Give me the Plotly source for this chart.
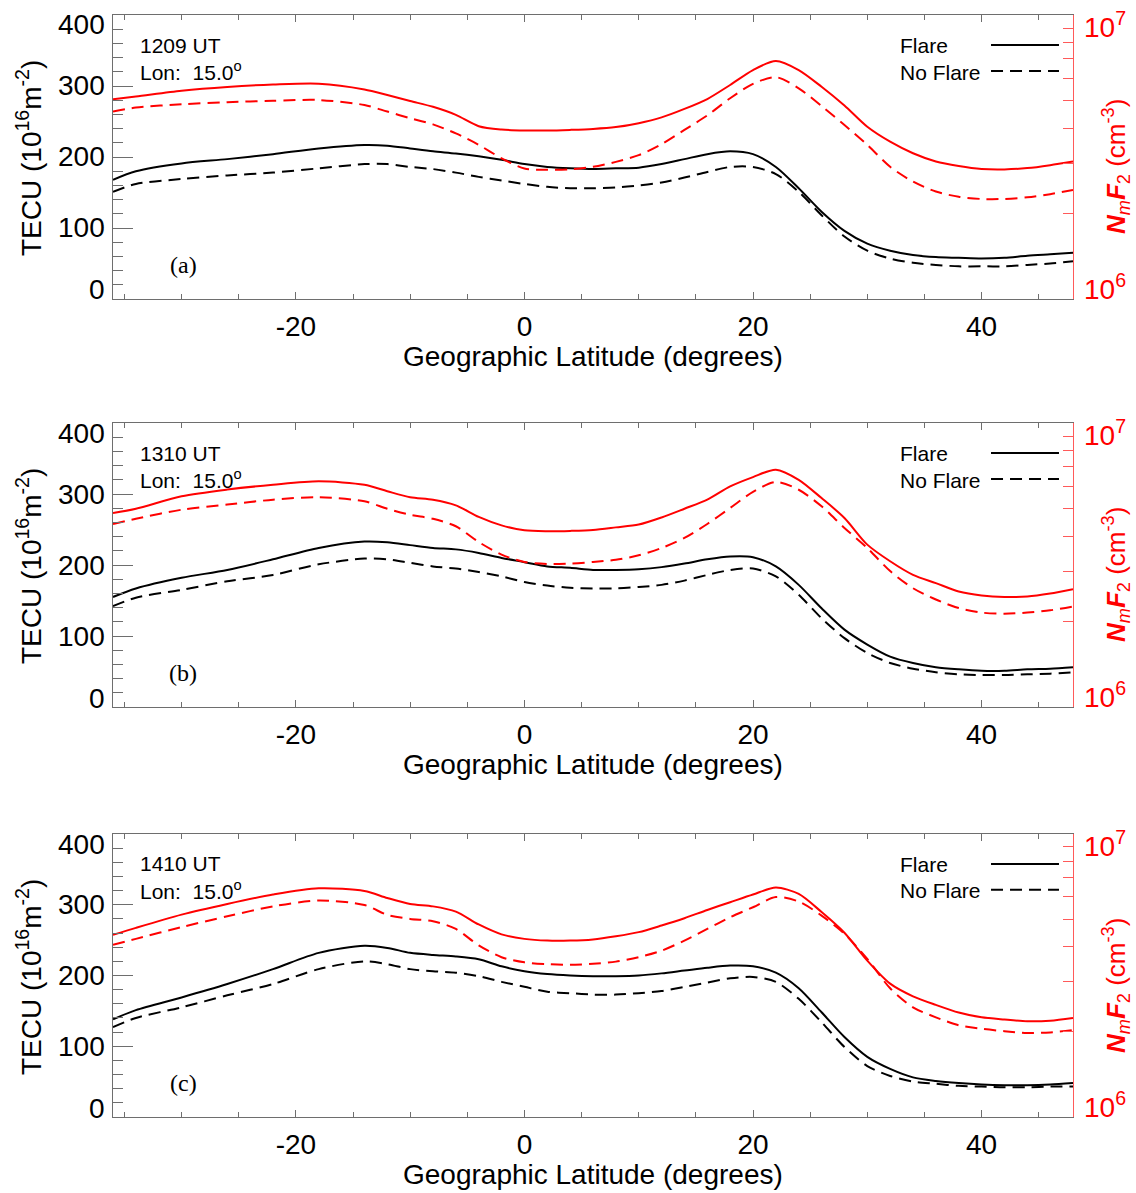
import plotly.graph_objects as go

# Geographic latitude grid (degrees) shared by every profile
lat = [-36, -34, -30, -26, -22, -18, -14, -12, -10, -8, -6, -4, -2, 0, 2, 4,
       6, 8, 10, 12, 14, 16, 18, 20, 22, 24, 26, 28, 30, 32, 34, 36, 38, 40, 42, 44, 46, 48]

# Total electron content (TECU) -- flare and no-flare runs
tec_flare_a = [168, 180, 191, 197, 204, 212, 217, 216, 212, 208, 205, 201, 196, 190, 186, 184,
               183, 184, 185, 190, 197, 204, 208, 204, 186, 156, 123, 96, 78, 68, 62, 59, 58, 57, 58, 61, 63, 65]
tec_noflare_a = [151, 162, 169, 174, 178, 184, 190, 190, 186, 183, 178, 172, 167, 162, 158, 156,
                 156, 157, 160, 164, 171, 179, 186, 186, 176, 151, 118, 88, 68, 57, 51, 48, 46, 46, 46, 48, 50, 53]
tec_flare_b = [155, 167, 182, 193, 208, 224, 233, 232, 228, 224, 222, 217, 210, 204, 198, 196,
               193, 193, 194, 197, 202, 208, 212, 211, 198, 172, 139, 109, 88, 71, 62, 56, 53, 51, 51, 53, 54, 56]
tec_noflare_b = [142, 154, 165, 177, 186, 201, 209, 208, 203, 198, 195, 190, 184, 176, 171, 168,
                 167, 167, 169, 172, 178, 186, 193, 195, 184, 158, 125, 97, 76, 62, 54, 49, 46, 45, 45, 46, 47, 49]
tec_flare_c = [138, 151, 169, 188, 209, 232, 242, 239, 232, 229, 227, 223, 213, 206, 202, 200,
               199, 199, 200, 203, 207, 211, 214, 213, 204, 182, 148, 113, 85, 68, 56, 51, 48, 46, 45, 45, 46, 48]
tec_noflare_c = [127, 140, 155, 172, 188, 209, 220, 216, 209, 206, 204, 199, 191, 184, 177, 175,
                 173, 173, 175, 178, 184, 190, 196, 198, 191, 167, 134, 99, 72, 58, 50, 47, 44, 43, 42, 42, 43, 43]

# F2-layer peak density NmF2, in units of 1e6 cm^-3
nmf2_flare_a = [5.05, 5.16, 5.41, 5.58, 5.69, 5.73, 5.47, 5.23, 4.98, 4.75, 4.45, 4.06, 3.95, 3.92, 3.92, 3.94,
                3.97, 4.03, 4.16, 4.36, 4.67, 5.06, 5.67, 6.40, 6.89, 6.40, 5.59, 4.80, 4.04, 3.58, 3.26, 3.05, 2.94, 2.87, 2.86, 2.89, 2.96, 3.05]
nmf2_noflare_a = [4.57, 4.72, 4.85, 4.93, 4.99, 5.02, 4.82, 4.57, 4.33, 4.12, 3.83, 3.49, 3.13, 2.88, 2.85, 2.86,
                  2.92, 3.04, 3.21, 3.51, 3.94, 4.43, 5.09, 5.72, 6.04, 5.52, 4.78, 4.10, 3.49, 2.92, 2.59, 2.39, 2.29, 2.25, 2.25, 2.28, 2.34, 2.42]
nmf2_flare_b = [4.82, 4.99, 5.52, 5.83, 6.06, 6.23, 6.06, 5.75, 5.48, 5.37, 5.13, 4.67, 4.36, 4.19, 4.16, 4.17,
                4.20, 4.29, 4.39, 4.65, 4.99, 5.37, 5.98, 6.45, 6.85, 6.31, 5.44, 4.63, 3.73, 3.26, 2.92, 2.73, 2.55, 2.47, 2.44, 2.45, 2.51, 2.60]
nmf2_noflare_b = [4.41, 4.60, 4.95, 5.16, 5.37, 5.48, 5.30, 4.99, 4.75, 4.60, 4.33, 3.81, 3.44, 3.24, 3.19, 3.20,
                  3.24, 3.30, 3.42, 3.63, 3.94, 4.41, 5.02, 5.72, 6.20, 5.82, 5.09, 4.27, 3.63, 3.01, 2.62, 2.39, 2.23, 2.15, 2.13, 2.15, 2.19, 2.26]
nmf2_flare_c = [4.40, 4.66, 5.19, 5.66, 6.11, 6.43, 6.29, 5.94, 5.66, 5.55, 5.32, 4.79, 4.42, 4.26, 4.20, 4.20,
                4.24, 4.35, 4.50, 4.75, 5.04, 5.39, 5.74, 6.11, 6.47, 6.14, 5.30, 4.48, 3.57, 2.96, 2.67, 2.49, 2.34, 2.25, 2.21, 2.18, 2.19, 2.24]
nmf2_noflare_c = [4.06, 4.26, 4.69, 5.12, 5.55, 5.82, 5.61, 5.18, 5.01, 4.92, 4.62, 4.04, 3.67, 3.52, 3.47, 3.45,
                  3.48, 3.54, 3.67, 3.87, 4.20, 4.62, 5.08, 5.51, 5.99, 5.77, 5.15, 4.44, 3.62, 2.85, 2.44, 2.25, 2.11, 2.05, 2.01, 1.98, 1.99, 2.03]

panel_times = ["1209 UT", "1310 UT", "1410 UT"]
panel_tags = ["(a)", "(b)", "(c)"]
longitude = "15.0"

tec_ticks = [0, 100, 200, 300, 400]
tec_ticktext = ["0", "100", "200", "300", "400"]
lat_ticks = [-20, 0, 20, 40]
lat_ticktext = ["-20", "0", "20", "40"]
nmf2_decade_text = ["10<sup>6</sup>", "10<sup>7</sup>"]
nmf2_ticks = [2e6, 3e6, 4e6, 5e6, 6e6, 7e6, 8e6, 9e6]

tec_sets = [(tec_flare_a, tec_noflare_a), (tec_flare_b, tec_noflare_b), (tec_flare_c, tec_noflare_c)]
nmf2_sets = [(nmf2_flare_a, nmf2_noflare_a), (nmf2_flare_b, nmf2_noflare_b), (nmf2_flare_c, nmf2_noflare_c)]

# ---- page geometry (pixels) ----
W, H = 1136, 1193
PLOT_L, PLOT_R = 113, 1073
PANEL_TOP = [15, 423, 834]
PANEL_BOT = [299, 707, 1117]

SANS = "Liberation Sans, Arial, Helvetica, sans-serif"
SERIF = "Liberation Serif, Times New Roman, serif"
RED = "#ff0000"
RED_AXIS = "#ff5a5a"
AXIS_GREY = "#6e6e6e"
DASH = "12px,7px"

fig = go.Figure()
annotations = []
shapes = []

xdom = [PLOT_L / W, PLOT_R / W]

for i in range(3):
    n = i + 1
    xa = "x" if n == 1 else f"x{n}"
    yl_n, yr_n = 2 * i + 1, 2 * i + 2
    yl = "y" if yl_n == 1 else f"y{yl_n}"
    yr = f"y{yr_n}"
    top, bot = PANEL_TOP[i], PANEL_BOT[i]
    ydom = [1 - bot / H, 1 - top / H]

    tf, tn = tec_sets[i]
    nf, nn = nmf2_sets[i]
    line_kw = dict(shape="spline", smoothing=0.8, width=2)

    fig.add_trace(go.Scatter(x=lat, y=tf, xaxis=xa, yaxis=yl, mode="lines",
                             line=dict(color="black", **line_kw), showlegend=False, name="Flare TEC"))
    fig.add_trace(go.Scatter(x=lat, y=tn, xaxis=xa, yaxis=yl, mode="lines",
                             line=dict(color="black", dash=DASH, **line_kw), showlegend=False, name="No Flare TEC"))
    fig.add_trace(go.Scatter(x=lat, y=[v * 1e6 for v in nf], xaxis=xa, yaxis=yr, mode="lines",
                             line=dict(color=RED, **line_kw), showlegend=False, name="Flare NmF2"))
    fig.add_trace(go.Scatter(x=lat, y=[v * 1e6 for v in nn], xaxis=xa, yaxis=yr, mode="lines",
                             line=dict(color=RED, dash=DASH, **line_kw), showlegend=False, name="No Flare NmF2"))

    xkey = "xaxis" if n == 1 else f"xaxis{n}"
    ylkey = "yaxis" if yl_n == 1 else f"yaxis{yl_n}"
    yrkey = f"yaxis{yr_n}"

    fig.layout[xkey] = dict(
        domain=xdom, anchor=yl, range=[-36, 48],
        tickmode="array", tickvals=lat_ticks, ticktext=lat_ticktext,
        ticks="inside", ticklen=7, tickwidth=1, tickcolor=AXIS_GREY,
        minor=dict(dtick=5, tick0=0, ticks="inside", ticklen=5, tickcolor=AXIS_GREY),
        showline=True, linecolor=AXIS_GREY, linewidth=1, mirror="ticks",
        showgrid=False, zeroline=False,
        tickfont=dict(family=SANS, size=28, color="black"),
        ticklabelstandoff=2,
    )
    fig.layout[ylkey] = dict(
        domain=ydom, anchor=xa, range=[0, 400],
        tickmode="array", tickvals=tec_ticks, showticklabels=False,
        ticks="inside", ticklen=20, tickwidth=1, tickcolor=AXIS_GREY,
        minor=dict(dtick=20, tick0=0, ticks="inside", ticklen=10, tickcolor=AXIS_GREY),
        showline=True, linecolor=AXIS_GREY, linewidth=1,
        showgrid=False, zeroline=False,
    )
    fig.layout[yrkey] = dict(
        overlaying=yl, anchor=xa, side="right", type="log", range=[6, 7],
        tickmode="array", tickvals=nmf2_ticks, showticklabels=False,
        ticks="inside", ticklen=10, tickwidth=1, tickcolor=RED_AXIS,
        showline=True, linecolor=RED_AXIS, linewidth=1,
        showgrid=False, zeroline=False,
    )

    dx = f"{xa} domain"
    dy = f"{yl} domain"

    # left-axis numbers; the end labels sit just inside the frame
    for v, t in zip(tec_ticks, tec_ticktext):
        shift = -10 if v == tec_ticks[-1] else (9 if v == tec_ticks[0] else 0)
        annotations.append(dict(
            text=t, x=0, y=v, xref=dx, yref=yl, xanchor="right", yanchor="middle",
            xshift=-6, yshift=shift, showarrow=False,
            font=dict(family=SANS, size=28, color="black")))
    # right-axis decade labels
    annotations.append(dict(
        text=nmf2_decade_text[1], x=1, y=1, xref=dx, yref=dy, xanchor="left", yanchor="middle",
        xshift=9, yshift=-10, showarrow=False, font=dict(family=SANS, size=28, color=RED)))
    annotations.append(dict(
        text=nmf2_decade_text[0], x=1, y=0, xref=dx, yref=dy, xanchor="left", yanchor="middle",
        xshift=9, yshift=12, showarrow=False, font=dict(family=SANS, size=28, color=RED)))

    # left axis title
    annotations.append(dict(
        text="TECU (10<sup>16</sup>m<sup>-2</sup>)", textangle=-90,
        x=29 / W, y=1 - (top + 143) / H, xref="paper", yref="paper",
        xanchor="center", yanchor="middle", showarrow=False,
        font=dict(family=SANS, size=28, color="black")))
    # right axis title
    annotations.append(dict(
        text="<b><i>N</i></b><sub><i>m</i></sub><b><i>F</i></b><sub>2</sub> (cm<sup>-3</sup>)",
        textangle=-90,
        x=1116 / W, y=1 - (top + 152) / H, xref="paper", yref="paper",
        xanchor="center", yanchor="middle", showarrow=False,
        font=dict(family=SANS, size=26, color=RED)))
    # bottom axis title
    annotations.append(dict(
        text="Geographic Latitude (degrees)",
        x=(PLOT_L + PLOT_R) / 2 / W, y=1 - (bot + 57) / H, xref="paper", yref="paper",
        xanchor="center", yanchor="middle", showarrow=False,
        font=dict(family=SANS, size=28, color="black")))
    # time / longitude block
    annotations.append(dict(
        text=panel_times[i], x=0.026, y=0.894, xref=dx, yref=dy,
        xanchor="left", yanchor="middle", showarrow=False,
        font=dict(family=SANS, size=21, color="black")))
    annotations.append(dict(
        text="Lon:\u00a0 " + longitude + "<sup>o</sup>", x=0.026, y=0.803, xref=dx, yref=dy,
        xanchor="left", yanchor="middle", showarrow=False,
        font=dict(family=SANS, size=21, color="black")))
    # panel tag
    annotations.append(dict(
        text=panel_tags[i], x=0.073, y=0.12, xref=dx, yref=dy,
        xanchor="center", yanchor="middle", showarrow=False,
        font=dict(family=SERIF, size=24, color="black")))
    # line-style key
    annotations.append(dict(
        text="Flare", x=0.8177, y=0.891, xref=dx, yref=dy,
        xanchor="left", yanchor="middle", showarrow=False,
        font=dict(family=SANS, size=21, color="black")))
    annotations.append(dict(
        text="No Flare", x=0.8177, y=0.799, xref=dx, yref=dy,
        xanchor="left", yanchor="middle", showarrow=False,
        font=dict(family=SANS, size=21, color="black")))
    shapes.append(dict(type="line", xref=dx, yref=dy, x0=0.9146, x1=0.9854, y0=0.894, y1=0.894,
                       line=dict(color="black", width=2)))
    shapes.append(dict(type="line", xref=dx, yref=dy, x0=0.9146, x1=0.9854, y0=0.803, y1=0.803,
                       line=dict(color="black", width=2, dash=DASH)))

fig.update_layout(
    width=W, height=H,
    margin=dict(l=0, r=0, t=0, b=0, autoexpand=False),
    paper_bgcolor="white", plot_bgcolor="white",
    showlegend=False,
    annotations=annotations,
    shapes=shapes,
    font=dict(family=SANS, color="black"),
)

fig.write_html("out.html")
